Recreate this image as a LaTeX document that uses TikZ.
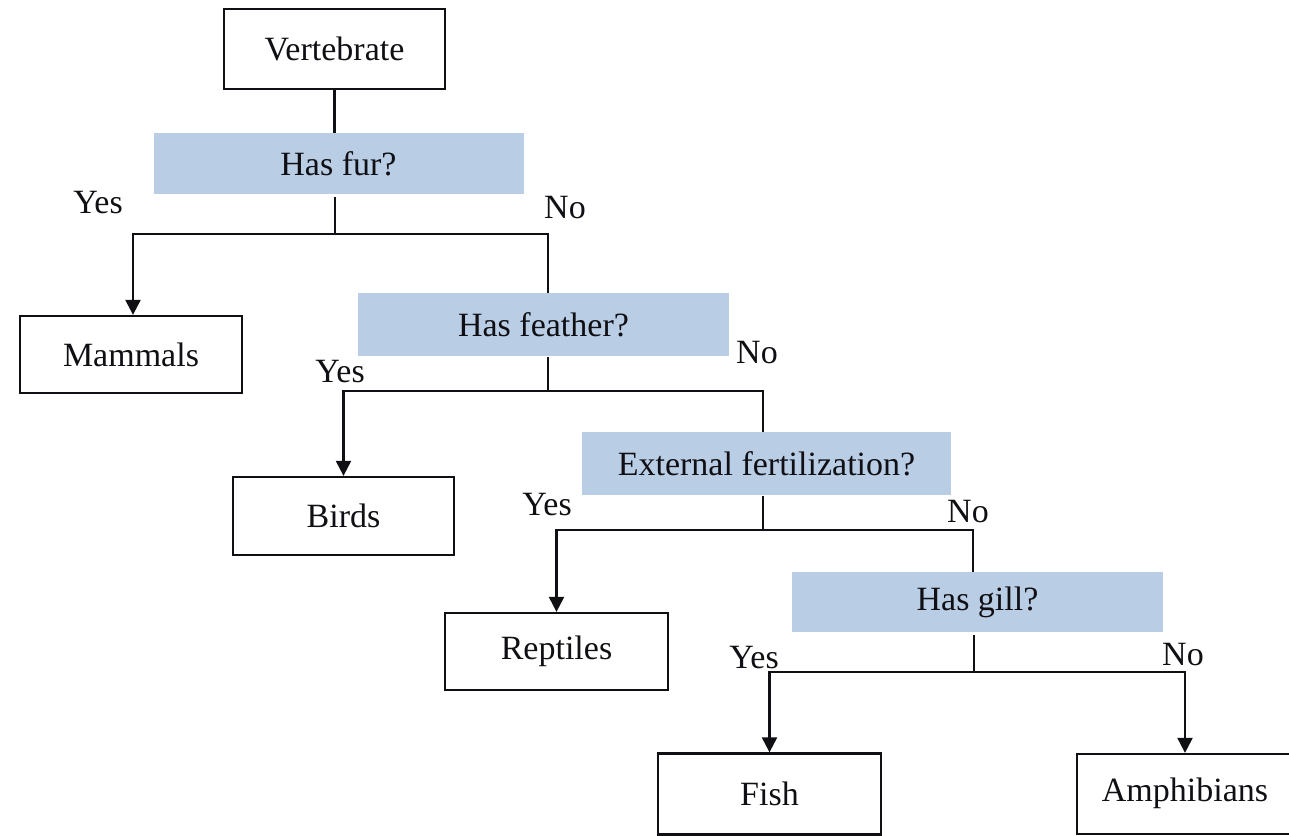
\documentclass[tikz,border=0pt]{standalone}
\usepackage{fontspec}
\setmainfont{Liberation Serif}
\usetikzlibrary{arrows.meta}
\definecolor{qblue}{RGB}{185,205,229}
\definecolor{ink}{RGB}{15,15,20}
\begin{document}
\begin{tikzpicture}[x=1pt,y=-1pt,
  every node/.style={font=\fontsize{34}{40}\selectfont, inner sep=0pt, text=ink},
  leaf/.style={draw=ink, line width=2.3pt, minimum width=221pt, minimum height=78pt},
  quest/.style={fill=qblue, minimum width=370pt, minimum height=61pt},
  conn/.style={draw=ink, line width=2.2pt},
  arr/.style={conn, -{Triangle[width=15pt,length=15pt]}}]
\useasboundingbox (0,0) rectangle (1289,835);
% nodes
\node[leaf, minimum height=80pt] (vert) at (334.5,49) {Vertebrate};
\node[quest] (fur) at (338.5,163.5) {Has fur?};
\node[leaf, minimum width=222pt, minimum height=77pt] (mammals) at (131,354.5) {Mammals};
\node[quest, minimum width=371pt, minimum height=63pt] (feather) at (543.5,324.5) {Has feather?};
\node[leaf] (birds) at (343.5,516) {Birds};
\node[quest, minimum width=369pt, minimum height=63pt] (ext) at (766.5,463.5) {External fertilization?};
\node[leaf, minimum width=223pt, minimum height=77pt] (reptiles) at (556.5,651.5) {Reptiles};
\node[quest, minimum width=371pt, minimum height=60pt] (gill) at (977.5,602) {Has gill?};
\node[leaf, minimum width=223pt, minimum height=81pt] (fish) at (769.5,794) {Fish};
\node[leaf, minimum width=226pt, minimum height=80pt] (amph) at (1190,794) {};
\node (amphtext) at (1185,793) {Amphibians};
% labels
\node (y1) at (98,203) {Yes};
\node (n1) at (565,208) {No};
\node (y2) at (340,372) {Yes};
\node (n2) at (757,353) {No};
\node (y3) at (547,505) {Yes};
\node (n3) at (968,512) {No};
\node (y4) at (754,658) {Yes};
\node (n4) at (1183,655) {No};
% junctions
\coordinate (j1) at (335,234);
\coordinate (j2) at (548,391);
\coordinate (j3) at (763,530);
\coordinate (j4) at (974,672);
% connectors
\draw[conn] (vert.south) -- (vert.south |- fur.north);
\draw[conn] ([yshift=-3pt]fur.south -| j1) -- (j1);
\draw[arr] (j1) -| (mammals.north -| 133,0);
\draw[conn] (j1) -| (j2 |- feather.north);
\draw[conn] ([yshift=-1pt]feather.south -| j2) -- (j2);
\draw[arr] (j2) -| (birds.north);
\draw[conn] (j2) -| (j3 |- ext.north);
\draw[conn] ([yshift=-1pt]ext.south -| j3) -- (j3);
\draw[arr] (j3) -| (reptiles.north);
\draw[conn] (j3) -| (gill.north -| 973,0);
\draw[conn] ([yshift=-3pt]gill.south -| j4) -- (j4);
\draw[arr] (j4) -| (fish.north);
\draw[arr] (j4) -| (amph.north -| amphtext);
\end{tikzpicture}
\end{document}
